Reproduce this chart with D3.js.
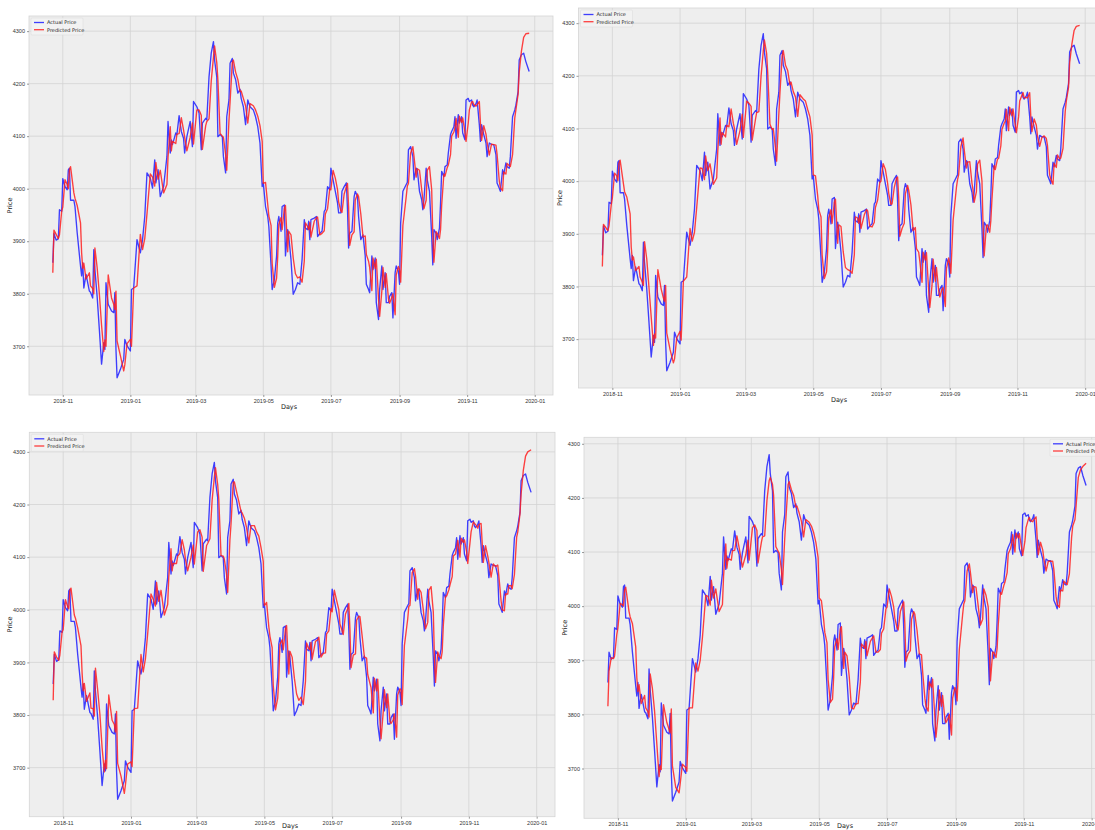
<!DOCTYPE html>
<html>
<head>
<meta charset="utf-8">
<script src="https://cdn.jsdelivr.net/npm/d3@7/dist/d3.min.js"></script>
<style>
  html, body { margin: 0; padding: 0; background: #ffffff; }
  svg { display: block; font-family: "DejaVu Sans", sans-serif; }
</style>
</head>
<body>
<svg id="chart" width="1095" height="830"></svg>
<script>
// Trading dates shared by all four panels
const dates = [
"2018-10-23","2018-10-24","2018-10-26","2018-10-28","2018-10-29","2018-10-31","2018-11-01","2018-11-03","2018-11-05","2018-11-06",
"2018-11-07","2018-11-08","2018-11-11","2018-11-12","2018-11-14","2018-11-17","2018-11-18","2018-11-19","2018-11-20","2018-11-22",
"2018-11-25","2018-11-26","2018-11-28","2018-11-29","2018-11-30","2018-12-02","2018-12-04","2018-12-06","2018-12-08","2018-12-09",
"2018-12-10","2018-12-12","2018-12-15","2018-12-17","2018-12-18","2018-12-19","2018-12-20","2018-12-23","2018-12-26","2018-12-27",
"2018-12-29","2019-01-01","2019-01-02","2019-01-04","2019-01-07","2019-01-10","2019-01-12","2019-01-14","2019-01-16","2019-01-19",
"2019-01-21","2019-01-23","2019-01-24","2019-01-26","2019-01-28","2019-01-31","2019-02-03","2019-02-04","2019-02-06","2019-02-07",
"2019-02-08","2019-02-11","2019-02-12","2019-02-14","2019-02-16","2019-02-18","2019-02-19","2019-02-21","2019-02-24","2019-02-26",
"2019-02-27","2019-03-02","2019-03-04","2019-03-06","2019-03-07","2019-03-10","2019-03-11","2019-03-13","2019-03-15","2019-03-17",
"2019-03-18","2019-03-20","2019-03-21","2019-03-23","2019-03-25","2019-03-26","2019-03-28","2019-03-29","2019-03-31","2019-04-01",
"2019-04-03","2019-04-04","2019-04-06","2019-04-08","2019-04-10","2019-04-11","2019-04-13","2019-04-15","2019-04-17","2019-04-19",
"2019-04-22","2019-04-24","2019-04-26","2019-04-28","2019-04-30","2019-05-01","2019-05-03","2019-05-05","2019-05-06","2019-05-08",
"2019-05-09","2019-05-11","2019-05-13","2019-05-14","2019-05-15","2019-05-17","2019-05-18","2019-05-20","2019-05-21","2019-05-23",
"2019-05-24","2019-05-26","2019-05-28","2019-05-30","2019-06-01","2019-06-03","2019-06-05","2019-06-07","2019-06-08","2019-06-10",
"2019-06-11","2019-06-12","2019-06-13","2019-06-16","2019-06-18","2019-06-19","2019-06-21","2019-06-23","2019-06-25","2019-06-26",
"2019-06-28","2019-06-30","2019-07-01","2019-07-03","2019-07-05","2019-07-07","2019-07-08","2019-07-10","2019-07-11","2019-07-13",
"2019-07-15","2019-07-16","2019-07-17","2019-07-18","2019-07-20","2019-07-22","2019-07-23","2019-07-25","2019-07-26","2019-07-28",
"2019-07-30","2019-08-01","2019-08-02","2019-08-04","2019-08-05","2019-08-07","2019-08-08","2019-08-10","2019-08-11","2019-08-13",
"2019-08-14","2019-08-16","2019-08-17","2019-08-19","2019-08-20","2019-08-22","2019-08-23","2019-08-25","2019-08-26","2019-08-28",
"2019-08-29","2019-08-31","2019-09-01","2019-09-02","2019-09-04","2019-09-07","2019-09-08","2019-09-09","2019-09-11","2019-09-13",
"2019-09-14","2019-09-16","2019-09-17","2019-09-19","2019-09-21","2019-09-22","2019-09-23","2019-09-25","2019-09-26","2019-09-28",
"2019-09-30","2019-10-01","2019-10-02","2019-10-04","2019-10-05","2019-10-07","2019-10-08","2019-10-09","2019-10-11","2019-10-12",
"2019-10-14","2019-10-15","2019-10-17","2019-10-18","2019-10-20","2019-10-21","2019-10-22","2019-10-24","2019-10-25","2019-10-27",
"2019-10-28","2019-10-30","2019-10-31","2019-11-02","2019-11-03","2019-11-05","2019-11-06","2019-11-07","2019-11-09","2019-11-10",
"2019-11-12","2019-11-13","2019-11-14","2019-11-16","2019-11-18","2019-11-19","2019-11-21","2019-11-23","2019-11-25","2019-11-27",
"2019-11-28","2019-11-30","2019-12-01","2019-12-03","2019-12-04","2019-12-06","2019-12-07","2019-12-09","2019-12-10","2019-12-12",
"2019-12-14","2019-12-15","2019-12-17","2019-12-18","2019-12-20","2019-12-22","2019-12-24","2019-12-27"
];

// Observed closing price
const actual = [
3859,3915,3902,3905,3960,3957,4019,4004,3998,4036,
4039,3978,3978,3966,3916,3853,3834,3859,3811,3837,
3805,3803,3792,3884,3846,3795,3732,3666,3707,3694,
3821,3780,3767,3764,3802,3694,3640,3656,3675,3713,
3701,3691,3808,3811,3903,3878,3903,3947,4030,4020,
4001,4055,4011,4036,3985,4004,4061,4128,4068,4093,
4084,4106,4103,4139,4109,4096,4068,4099,4128,4080,
4166,4156,4144,4074,4125,4134,4131,4213,4258,4280,
4245,4213,4099,4103,4099,4061,4030,4137,4169,4239,
4248,4220,4208,4182,4189,4172,4156,4122,4169,4156,
4150,4137,4118,4087,4004,4011,3966,3947,3928,3853,
3808,3827,3872,3935,3947,3919,3966,3969,3872,3922,
3909,3865,3799,3808,3821,3818,3865,3941,3925,3922,
3938,3903,3941,3944,3947,3909,3915,3919,3957,3960,
4004,3998,4039,4017,3995,3973,3954,3954,3995,4004,
4011,3960,3887,3915,3919,3985,3995,3985,3947,3903,
3912,3872,3818,3808,3802,3872,3846,3868,3783,3751,
3808,3853,3808,3840,3783,3783,3795,3802,3754,3840,
3853,3843,3818,3935,3995,4008,4012,4074,4080,4061,
4017,4039,4036,3995,3979,3960,3979,4039,4017,3995,
3909,3855,3922,3915,3903,3925,3973,4033,4023,4042,
4045,4068,4103,4109,4118,4137,4096,4141,4125,4137,
4106,4093,4169,4172,4166,4169,4159,4156,4162,4169,
4122,4090,4122,4103,4087,4061,4087,4084,4084,4065,
4011,4001,3995,4036,4027,4049,4042,4039,4061,4137,
4150,4159,4185,4245,4255,4258,4242,4223
];

// Model predictions, one series per panel
const predicted1 = [
3840,3921,3913,3905,3912,3957,3965,4017,4008,4000,
4036,4042,3992,3982,3968,3935,3878,3848,3858,3828,
3840,3815,3810,3800,3887,3850,3800,3740,3690,3712,
3700,3836,3792,3780,3770,3805,3710,3682,3653,3665,
3705,3713,3700,3811,3815,3913,3884,3905,3952,4028,
4022,4005,4050,4018,4035,3992,4008,4060,4118,4072,
4090,4086,4104,4105,4135,4112,4098,4072,4098,4125,
4085,4150,4150,4140,4075,4120,4128,4133,4205,4250,
4272,4240,4208,4105,4100,4098,4065,4035,4130,4165,
4240,4245,4222,4208,4185,4186,4172,4158,4125,4162,
4158,4150,4138,4120,4090,4010,4012,3970,3948,3930,
3858,3812,3830,3870,3932,3945,3922,3962,3968,3880,
3919,3912,3868,3838,3830,3832,3822,3862,3935,3928,
3922,3936,3908,3938,3945,3946,3912,3915,3920,3952,
3962,4000,3998,4035,4020,3998,3975,3958,3955,3990,
4004,4010,3965,3892,3912,3918,3978,3990,3985,3952,
3908,3910,3875,3862,3850,3806,3868,3848,3866,3790,
3757,3805,3850,3812,3838,3790,3782,3793,3800,3760,
3836,3852,3845,3822,3930,3985,4005,4010,4068,4080,
4062,4022,4038,4035,3998,3980,3962,3978,4035,4042,
3998,3912,3860,3918,3915,3905,3922,3968,4028,4024,
4040,4045,4065,4100,4108,4116,4134,4098,4138,4126,
4135,4108,4090,4125,4150,4165,4166,4160,4157,4160,
4166,4125,4092,4120,4104,4088,4064,4085,4084,4083,
4066,4015,4002,3996,4032,4028,4048,4044,4042,4065,
4135,4150,4180,4222,4262,4288,4295,4296
];

const predicted2 = [
3838,3918,3912,3906,3915,3955,3968,4015,4010,4001,
4034,4040,3995,3980,3970,3938,3875,3850,3856,3830,
3838,3818,3808,3802,3885,3852,3798,3742,3688,3710,
3702,3832,3795,3778,3772,3802,3712,3680,3655,3662,
3702,3715,3698,3810,3818,3910,3886,3903,3950,4025,
4024,4003,4048,4020,4033,3994,4006,4058,4120,4070,
4092,4084,4106,4103,4137,4110,4100,4070,4096,4127,
4083,4152,4148,4142,4078,4118,4130,4132,4200,4248,
4268,4242,4205,4108,4098,4100,4062,4038,4128,4168,
4238,4248,4220,4210,4183,4188,4170,4160,4123,4164,
4156,4152,4136,4122,4088,4012,4010,3972,3946,3932,
3860,3815,3828,3868,3930,3946,3920,3960,3966,3882,
3917,3914,3866,3836,3832,3830,3825,3860,3932,3930,
3920,3935,3910,3936,3946,3944,3914,3913,3922,3950,
3964,3998,4000,4033,4022,3996,3977,3956,3957,3988,
4006,4008,3968,3895,3910,3920,3976,3992,3983,3955,
3906,3912,3872,3865,3848,3808,3865,3850,3864,3792,
3760,3802,3852,3810,3836,3792,3780,3795,3798,3762,
3834,3854,3843,3825,3926,3988,4003,4012,4066,4082,
4060,4025,4036,4037,3996,3982,3960,3980,4032,4040,
4000,3915,3858,3916,3917,3903,3925,3965,4030,4022,
4042,4043,4067,4098,4110,4114,4136,4096,4140,4124,
4137,4106,4092,4122,4152,4163,4168,4158,4159,4158,
4168,4122,4094,4118,4106,4086,4066,4083,4086,4081,
4068,4012,4004,3994,4034,4026,4050,4042,4044,4062,
4132,4152,4178,4225,4260,4286,4294,4296
];

const predicted3 = [
3828,3920,3910,3904,3914,3958,3962,4019,4006,4002,
4037,4041,3990,3984,3966,3932,3880,3846,3860,3826,
3842,3813,3812,3798,3889,3848,3802,3738,3692,3714,
3698,3838,3790,3782,3768,3807,3708,3684,3651,3667,
3707,3711,3702,3812,3813,3915,3882,3907,3954,4030,
4020,4007,4052,4016,4037,3990,4010,4062,4116,4074,
4088,4088,4102,4107,4133,4114,4096,4074,4100,4123,
4087,4148,4152,4138,4073,4122,4126,4135,4208,4252,
4270,4238,4210,4103,4102,4096,4067,4033,4132,4163,
4242,4243,4224,4206,4187,4184,4174,4156,4127,4160,
4160,4148,4140,4118,4092,4008,4014,3968,3950,3928,
3856,3810,3832,3872,3934,3943,3924,3964,3970,3878,
3921,3910,3870,3840,3828,3834,3820,3864,3937,3926,
3924,3938,3906,3940,3943,3948,3910,3917,3918,3954,
3960,4002,3996,4037,4018,4000,3973,3960,3953,3992,
4002,4012,3963,3890,3914,3916,3980,3988,3987,3950,
3910,3908,3877,3860,3852,3804,3870,3846,3868,3788,
3755,3807,3848,3814,3840,3788,3784,3791,3802,3758,
3838,3850,3847,3820,3932,3983,4007,4008,4070,4078,
4064,4020,4040,4033,4000,3978,3964,3976,4037,4044,
3996,3910,3862,3920,3913,3907,3920,3970,4026,4026,
4038,4047,4063,4102,4106,4118,4132,4100,4136,4128,
4133,4110,4088,4127,4148,4167,4164,4162,4155,4162,
4164,4127,4090,4122,4102,4090,4062,4087,4082,4085,
4064,4017,4000,3998,4030,4030,4046,4046,4040,4067,
4138,4148,4182,4220,4265,4292,4300,4304
];

const predicted4 = [
3815,3880,3905,3903,3908,3948,3960,4005,4003,4000,
4030,4035,3990,3980,3968,3925,3868,3842,3855,3820,
3835,3812,3805,3795,3875,3848,3805,3745,3685,3705,
3698,3818,3785,3772,3766,3810,3705,3665,3655,3672,
3708,3702,3695,3812,3812,3895,3880,3900,3942,4020,
4018,4002,4048,4015,4032,3990,4003,4055,4115,4070,
4088,4085,4102,4103,4130,4108,4096,4072,4095,4122,
4085,4145,4150,4140,4080,4118,4128,4130,4195,4232,
4238,4225,4205,4110,4102,4098,4068,4040,4125,4160,
4225,4230,4215,4205,4183,4185,4172,4157,4128,4160,
4155,4148,4136,4118,4090,4015,4010,3975,3952,3932,
3865,3822,3828,3868,3925,3940,3920,3958,3962,3885,
3915,3908,3870,3812,3810,3820,3820,3860,3930,3925,
3922,3935,3908,3935,3942,3945,3915,3915,3920,3950,
3958,3995,3998,4032,4018,3998,3978,3960,3956,3990,
4002,4008,3968,3898,3912,3918,3975,3990,3985,3955,
3912,3910,3880,3830,3815,3806,3860,3850,3865,3795,
3758,3800,3845,3815,3835,3792,3785,3793,3800,3762,
3830,3850,3845,3825,3920,3985,4004,4010,4065,4078,
4062,4025,4036,4035,4000,3982,3965,3976,4032,4020,
3998,3918,3862,3915,3915,3905,3922,3965,4025,4022,
4038,4044,4062,4097,4106,4115,4132,4100,4135,4126,
4134,4108,4094,4120,4145,4160,4164,4158,4156,4160,
4165,4128,4095,4118,4104,4088,4065,4083,4083,4083,
4068,4018,4003,3998,4030,4028,4046,4042,4040,4060,
4128,4148,4160,4185,4238,4252,4258,4264
];

const yTickValues = [3700, 3800, 3900, 4000, 4100, 4200, 4300];
const seriesNames = ["Actual Price", "Predicted Price"];
const xLabel = "Days";
const yLabel = "Price";

// Panel frames (pixel boxes of each plotting area)
const panels = [
  { left: 29,    top: 16,    right: 553,    bottom: 395,   pred: predicted1, legend: "left"  },
  { left: 578.5, top: 8,     right: 1103.5, bottom: 388,   pred: predicted2, legend: "left"  },
  { left: 29.3,  top: 432.3, right: 555,    bottom: 816.7, pred: predicted3, legend: "left"  },
  { left: 584,   top: 437.3, right: 1110,   bottom: 818.3, pred: predicted4, legend: "right" }
];

const parse = d3.timeParse("%Y-%m-%d");
const parsedDates = dates.map(parse);
const fmt = d3.timeFormat("%Y-%m");
const H = 830;

const svg = d3.select("#chart");
const blue = "#1f1fff", red = "#ff1f1f";

panels.forEach((p) => {
  const w = p.right - p.left, h = p.bottom - p.top;
  const g = svg.append("g").attr("transform", `translate(${p.left},${p.top})`);

  // 5% margins on both axes around the data
  const [d0, d1] = d3.extent(parsedDates);
  const span = d1 - d0;
  const x = d3.scaleTime()
    .domain([new Date(+d0 - span * 0.05), new Date(+d1 + span * 0.05)])
    .range([0, w]);

  const allVals = actual.concat(p.pred);
  const [v0, v1] = d3.extent(allVals);
  const vs = v1 - v0;
  const y = d3.scaleLinear().domain([v0 - vs * 0.05, v1 + vs * 0.05]).range([h, 0]);

  g.append("rect").attr("width", w).attr("height", h)
    .attr("fill", "#eeeeee").attr("stroke", "#d4d4d4").attr("stroke-width", 0.8);

  const xTicks = x.ticks(d3.timeMonth.every(2));

  // grid
  g.append("g").selectAll("line").data(xTicks).join("line")
    .attr("x1", d => x(d)).attr("x2", d => x(d)).attr("y1", 0).attr("y2", h)
    .attr("stroke", "#d3d3d3").attr("stroke-width", 0.8);
  g.append("g").selectAll("line").data(yTickValues).join("line")
    .attr("x1", 0).attr("x2", w).attr("y1", d => y(d)).attr("y2", d => y(d))
    .attr("stroke", "#d3d3d3").attr("stroke-width", 0.8);

  // axes
  const xAxis = d3.axisBottom(x).tickValues(xTicks).tickFormat(fmt).tickSize(2).tickPadding(2);
  const yAxis = d3.axisLeft(y).tickValues(yTickValues).tickFormat(d3.format("d")).tickSize(2).tickPadding(2);
  const gx = g.append("g").attr("transform", `translate(0,${h})`).call(xAxis);
  const gy = g.append("g").call(yAxis);
  [gx, gy].forEach(ax => {
    ax.select(".domain").remove();
    ax.selectAll(".tick line").attr("stroke", "#555").attr("stroke-width", 0.6);
    ax.selectAll(".tick text").attr("fill", "#333").style("font-size", "5.5px");
  });

  // axis titles; the x title stays inside the page at the bottom row
  const xTitleY = Math.min(h + 14, H - 1.5 - p.top);
  g.append("text").attr("x", w / 2 - 2).attr("y", xTitleY)
    .attr("text-anchor", "middle").attr("fill", "#222").style("font-size", "6.5px").text(xLabel);
  g.append("text").attr("transform", `translate(-17,${h / 2}) rotate(-90)`)
    .attr("text-anchor", "middle").attr("fill", "#222").style("font-size", "6.5px").text(yLabel);

  // series
  const line = vals => d3.line().x((d, i) => x(parsedDates[i])).y(d => y(d))(vals);
  g.append("path").attr("d", line(actual)).attr("fill", "none")
    .attr("stroke", blue).attr("stroke-opacity", 0.85).attr("stroke-width", 1.35)
    .attr("stroke-linejoin", "round");
  g.append("path").attr("d", line(p.pred)).attr("fill", "none")
    .attr("stroke", red).attr("stroke-opacity", 0.85).attr("stroke-width", 1.35)
    .attr("stroke-linejoin", "round");

  // legend
  const lw = 52, lh = 17;
  const lx = p.legend === "left" ? 2 : w - lw - 8;
  const lg = g.append("g").attr("transform", `translate(${lx},2)`);
  lg.append("rect").attr("width", lw).attr("height", lh)
    .attr("fill", "#f2f2f2").attr("fill-opacity", 0.8).attr("stroke", "#dddddd").attr("stroke-width", 0.6).attr("rx", 1);
  const cols = [blue, red];
  seriesNames.forEach((s, i) => {
    const yy = 4.5 + i * 7.2;
    lg.append("line").attr("x1", 3).attr("x2", 13).attr("y1", yy).attr("y2", yy)
      .attr("stroke", cols[i]).attr("stroke-opacity", 0.85).attr("stroke-width", 1.3);
    lg.append("text").attr("x", 16).attr("y", yy + 1.8).attr("fill", "#222")
      .style("font-size", "5px").text(s);
  });
});
</script>
</body>
</html>
